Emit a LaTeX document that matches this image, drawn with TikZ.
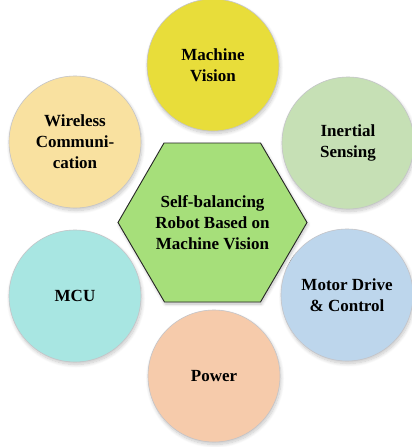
\documentclass[tikz,border=0pt]{standalone}
\usepackage{fontspec}
\setmainfont{Liberation Serif}
\usetikzlibrary{shadows.blur}
\definecolor{cVision}{HTML}{E8DD3A}
\definecolor{cWireless}{HTML}{F9E1A0}
\definecolor{cInertial}{HTML}{C6E0B5}
\definecolor{cMotor}{HTML}{BDD6EC}
\definecolor{cPower}{HTML}{F6CBAB}
\definecolor{cMCU}{HTML}{A8E6E2}
\definecolor{cHub}{HTML}{A6DF7A}
\definecolor{cRim}{HTML}{C4C4C8}
\tikzset{
  label font/.style={font=\bfseries\fontsize{17}{21}\selectfont, text=black},
  topic/.style={circle, minimum size=132pt, inner sep=0pt, draw=cRim, line width=0.6pt,
    label font, align=center,
    blur shadow={shadow xshift=1pt, shadow yshift=-2.5pt, shadow blur radius=3.5pt,
      shadow opacity=22, shadow blur steps=10}},
  hubtext/.style={label font, align=center, inner sep=0pt},
}
\begin{document}
\begin{tikzpicture}[x=1pt,y=-1pt]
\useasboundingbox (0,0) rectangle (412,447);
% surrounding topics, placed on a ring around the hub
\node[topic, fill=cVision]   (vision)   at (213, 65)    {Machine\\Vision};
\node[topic, fill=cInertial] (inertial) at (348, 143)   {Inertial\\Sensing};
\node[topic, fill=cMotor]    (motor)    at (347, 295)   {Motor Drive\\\& Control};
\node[topic, fill=cPower]    (power)    at (214, 376)   {Power};
\node[topic, fill=cMCU]      (mcu)      at (75, 296)    {MCU};
\node[topic, fill=cWireless] (wireless) at (75, 142)    {Wireless\\Communi-\\cation};
% central hexagon
\draw[fill=cHub, draw=black!85, line width=0.9pt,
  blur shadow={shadow xshift=1pt, shadow yshift=-2pt, shadow blur radius=3pt,
    shadow opacity=25, shadow blur steps=8}]
  (118,222.5) -- (164,143) -- (260.5,143) -- (307,222.5) -- (260.5,302) -- (164.5,302) -- cycle;
\node[hubtext] (hub) at (212.5, 223) {Self-balancing\\Robot Based on\\Machine Vision};
\end{tikzpicture}
\end{document}
